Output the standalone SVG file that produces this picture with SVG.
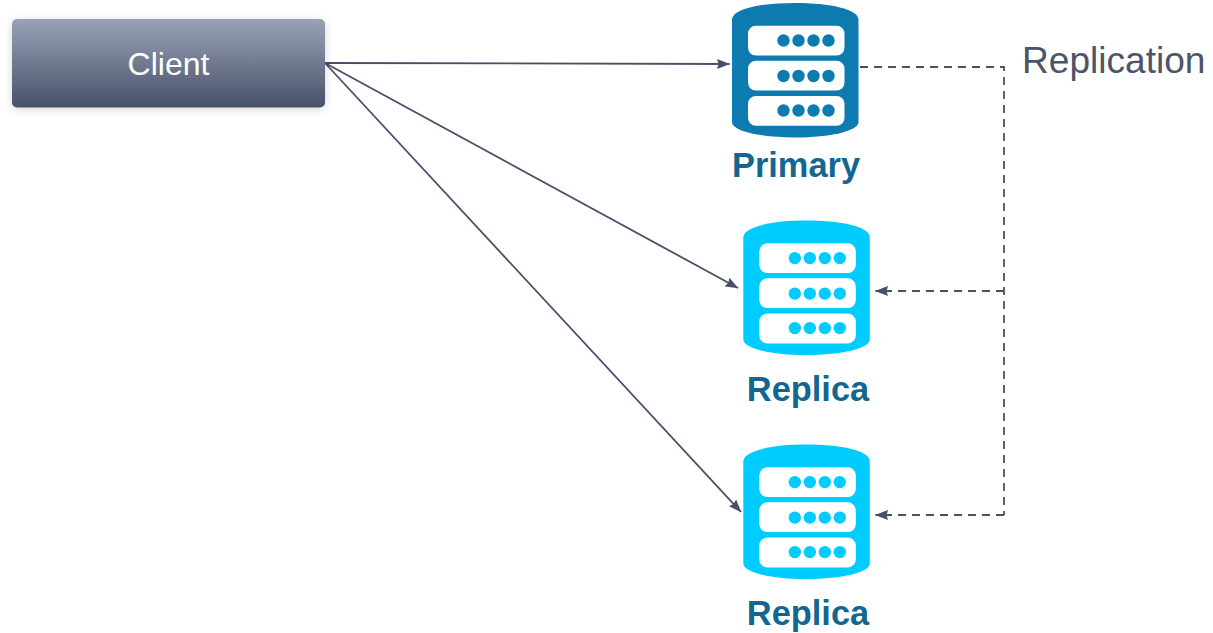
<svg xmlns="http://www.w3.org/2000/svg" width="1213" height="633" viewBox="0 0 1213 633">
<style>
text{font-family:"Liberation Sans",Arial,sans-serif}
.lbl{font-size:34.4px;font-weight:700;fill:#13668f;text-anchor:middle}
.rep{font-size:37.100px;fill:#4a5568}
.cli{font-size:32px;fill:#fff;text-anchor:middle}
.edge{fill:none;stroke:#475069;stroke-width:1.800}
.dash{stroke-dasharray:8 6}
.p{color:#0e7bb0}
.r{color:#00ccff}
</style>
<defs>
<linearGradient id="g" x1="0" y1="0" x2="0" y2="1"><stop offset="0" stop-color="#9aa2b8"/><stop offset="1" stop-color="#475168"/></linearGradient>
<filter id="s" x="-10%" y="-30%" width="120%" height="160%"><feDropShadow dx="0" dy="2" stdDeviation="4" flood-color="#000" flood-opacity=".16"/></filter>
<marker id="a" viewBox="0 0 13 11" refX="12.500" refY="5.500" markerWidth="13" markerHeight="11" markerUnits="userSpaceOnUse" orient="auto"><path d="M0 0.500L13 5.500L0 10.500L1.500 5.500Z" fill="#475069"/></marker>
<g id="db">
<path d="M732 20C732 9 760 3 795 3S858.500 9 858.500 20V122C858.500 131 830 137.500 795 137.500S732 131 732 122Z" fill="currentColor"/>
<rect x="748" y="25.700" width="96.500" height="29.800" rx="8" fill="#fff"/>
<rect x="748" y="60.700" width="96.500" height="29.800" rx="8" fill="#fff"/>
<rect x="748" y="96" width="96.500" height="29.800" rx="8" fill="#fff"/>
<g fill="currentColor">
<circle cx="783.500" cy="40.500" r="6.200"/><circle cx="798.500" cy="40.500" r="6.200"/><circle cx="813.500" cy="40.500" r="6.200"/><circle cx="828.500" cy="40.500" r="6.200"/>
<circle cx="783.500" cy="76" r="6.200"/><circle cx="798.500" cy="76" r="6.200"/><circle cx="813.500" cy="76" r="6.200"/><circle cx="828.500" cy="76" r="6.200"/>
<circle cx="783.500" cy="110.500" r="6.200"/><circle cx="798.500" cy="110.500" r="6.200"/><circle cx="813.500" cy="110.500" r="6.200"/><circle cx="828.500" cy="110.500" r="6.200"/>
</g>
</g>
</defs>
<rect width="1213" height="633" fill="#fff"/>
<g id="connectors">
<path class="edge" marker-end="url(#a)" d="M325 63L729.500 64"/>
<path class="edge" marker-end="url(#a)" d="M325 63L738 288"/>
<path class="edge" marker-end="url(#a)" d="M325 63L741 512"/>
<path class="edge dash" d="M860 67H1004V515"/>
<path class="edge dash" marker-end="url(#a)" d="M1004 291H875.500"/>
<path class="edge dash" marker-end="url(#a)" d="M1004 515H875.500"/>
</g>
<g id="client">
<rect x="12" y="19" width="313" height="88.500" rx="5" fill="url(#g)" filter="url(#s)"/>
<text class="cli" x="168.500" y="75">Client</text>
</g>
<g id="primary" class="p">
<use href="#db"/>
<text class="lbl" x="796" y="177">Primary</text>
</g>
<g id="replica1" class="r">
<use href="#db" x="11.300" y="217.600"/>
<text class="lbl" x="808" y="401">Replica</text>
</g>
<g id="replica2" class="r">
<use href="#db" x="11.300" y="441.600"/>
<text class="lbl" x="808" y="625">Replica</text>
</g>
<g id="replication-label">
<text class="rep" x="1022" y="73">Replication</text>
</g>
</svg>
